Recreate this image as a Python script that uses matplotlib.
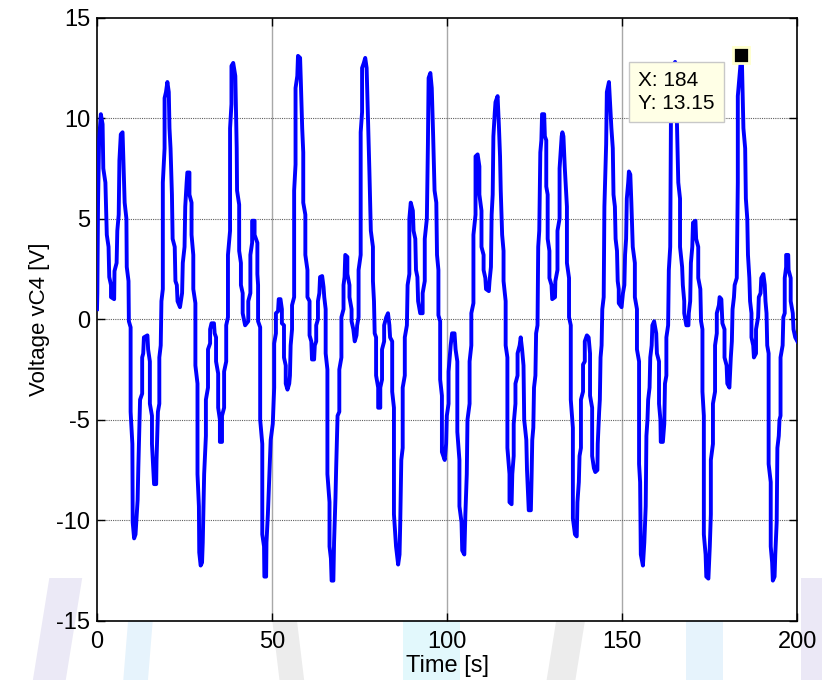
import matplotlib
matplotlib.use('Agg')
import matplotlib.pyplot as plt
from matplotlib.patches import Polygon
import numpy as np

plt.rcParams['font.family'] = ['Liberation Sans', 'DejaVu Sans']
plt.rcParams['axes.unicode_minus'] = False

# waveform vertices (time [s], voltage [V])
time_s = [
    0.0, 0.1, 0.3, 0.6, 1.1, 1.6, 1.8, 2.4, 2.8, 3.3, 3.5, 4.0, 4.0, 4.9, 5.0, 5.6, 5.8, 6.2, 6.4, 6.8,
    7.3, 7.5, 7.9, 8.4, 8.5, 9.0, 9.1, 9.6, 9.6, 10.1, 10.2, 10.6, 11.0, 11.6, 11.8, 12.3, 12.9, 12.9, 13.2, 13.4,
    14.4, 14.6, 15.1, 15.1, 15.7, 15.7, 16.3, 16.9, 17.0, 17.4, 17.8, 17.8, 18.2, 18.4, 18.8, 18.8, 19.3, 19.3, 19.7, 20.1,
    20.5, 20.7, 21.0, 21.4, 21.6, 22.2, 22.4, 22.8, 23.0, 23.7, 24.3, 24.5, 25.0, 25.2, 25.6, 25.8, 26.4, 26.4, 27.0, 27.0,
    27.5, 27.5, 28.1, 28.1, 28.7, 28.7, 29.1, 29.2, 29.6, 30.0, 30.2, 30.6, 31.1, 31.1, 31.7, 31.7, 32.3, 32.3, 32.7, 33.4,
    33.6, 34.0, 34.0, 34.6, 34.6, 35.1, 35.1, 35.7, 35.7, 36.3, 36.3, 36.9, 36.9, 37.4, 37.4, 38.0, 38.0, 38.4, 38.4, 38.9,
    39.5, 39.9, 40.0, 40.6, 40.6, 41.1, 41.1, 41.6, 41.6, 42.3, 43.2, 43.2, 43.8, 43.8, 44.3, 44.3, 45.0, 45.0, 45.8, 45.8,
    46.0, 46.0, 46.6, 46.6, 47.2, 47.2, 47.7, 47.8, 48.3, 48.4, 48.8, 49.6, 50.2, 50.6, 50.6, 51.1, 51.1, 51.7, 51.9, 52.4,
    52.8, 52.8, 53.4, 53.4, 53.9, 53.9, 54.4, 54.9, 55.1, 55.3, 55.7, 55.7, 56.3, 56.3, 56.7, 56.7, 57.2, 57.4, 58.0, 58.2,
    58.6, 58.9, 58.9, 59.5, 59.5, 60.1, 60.1, 60.7, 60.7, 61.2, 61.4, 62.0, 62.2, 62.6, 62.6, 63.1, 63.1, 63.5, 63.7, 64.3,
    64.7, 64.9, 65.3, 65.3, 65.8, 65.8, 66.4, 66.4, 66.8, 67.0, 67.5, 67.7, 68.1, 68.3, 68.7, 69.2, 69.2, 69.8, 69.8, 70.4,
    70.4, 70.7, 70.9, 71.5, 71.5, 72.1, 72.1, 72.7, 72.7, 73.2, 73.6, 74.1, 74.3, 74.7, 74.7, 75.3, 75.3, 75.7, 75.7, 76.2,
    76.6, 77.0, 77.4, 77.8, 78.2, 78.8, 78.8, 79.1, 79.3, 79.7, 79.7, 80.3, 80.3, 80.9, 80.9, 81.4, 81.4, 82.0, 82.0, 82.6,
    83.1, 83.5, 83.7, 84.3, 84.3, 84.8, 84.8, 85.4, 86.0, 86.4, 86.6, 86.9, 87.3, 87.3, 87.9, 87.9, 88.5, 88.7, 89.2, 89.2,
    89.6, 90.2, 90.4, 90.9, 91.1, 91.5, 91.7, 92.3, 93.0, 93.0, 93.6, 93.6, 94.2, 94.5, 94.7, 95.2, 95.6, 96.0, 96.4, 96.9,
    97.1, 97.5, 97.5, 98.0, 98.0, 98.5, 98.5, 99.3, 99.7, 99.9, 100.4, 100.4, 101.0, 101.4, 102.1, 102.4, 102.9, 102.9, 103.5, 103.5,
    104.1, 104.3, 104.9, 105.2, 105.6, 105.8, 106.4, 106.4, 106.9, 106.9, 107.5, 107.5, 108.1, 108.1, 108.7, 109.2, 109.2, 109.8, 109.8, 110.4,
    110.4, 110.9, 111.1, 111.9, 112.1, 112.5, 112.7, 113.0, 113.2, 113.6, 113.8, 114.4, 114.8, 115.1, 115.3, 115.7, 116.1, 116.1, 116.7, 116.7,
    117.2, 117.2, 117.8, 117.8, 118.4, 118.6, 119.0, 119.0, 119.5, 119.5, 120.1, 120.1, 120.7, 121.0, 121.4, 121.8, 122.0, 122.6, 122.8, 123.3,
    123.9, 124.1, 124.3, 124.6, 124.8, 125.2, 125.4, 125.8, 126.0, 126.3, 126.6, 126.9, 127.1, 127.7, 127.9, 128.3, 128.3, 128.7, 128.7, 129.2,
    129.2, 129.8, 130.0, 130.8, 130.9, 131.5, 131.5, 132.1, 132.1, 132.7, 132.9, 133.2, 133.6, 134.0, 134.2, 134.2, 134.8, 134.8, 135.3, 135.3,
    135.9, 135.9, 136.5, 137.0, 137.2, 137.6, 137.8, 138.2, 138.2, 138.8, 138.8, 139.3, 139.3, 139.9, 140.4, 140.8, 140.8, 141.4, 141.4, 141.9,
    142.3, 142.9, 143.0, 143.4, 143.6, 143.8, 144.1, 144.3, 144.7, 144.9, 145.4, 145.6, 146.2, 146.6, 146.9, 147.3, 147.5, 147.9, 148.1, 148.5,
    148.7, 149.0, 149.0, 149.8, 150.2, 150.6, 150.8, 151.1, 151.3, 151.7, 151.9, 152.3, 152.6, 153.0, 153.6, 153.6, 154.2, 154.2, 154.8, 154.8,
    155.1, 155.3, 155.9, 156.3, 156.7, 156.9, 157.2, 157.4, 157.8, 158.0, 158.4, 158.6, 159.1, 159.7, 159.9, 160.5, 160.5, 160.9, 161.0, 161.6,
    162.0, 162.2, 162.6, 162.6, 163.1, 163.3, 163.7, 163.9, 164.5, 165.1, 165.6, 166.0, 166.5, 166.5, 167.1, 167.3, 167.7, 167.7, 168.3, 168.9,
    169.0, 169.4, 169.6, 170.0, 170.2, 170.9, 171.1, 171.7, 171.7, 172.3, 172.5, 172.9, 172.9, 173.3, 173.3, 173.8, 174.0, 174.6, 175.0, 175.3,
    175.3, 175.9, 175.9, 176.5, 176.5, 177.0, 177.0, 177.6, 177.8, 178.3, 178.6, 179.2, 179.2, 179.8, 180.0, 180.6, 180.8, 181.0, 181.3, 181.5,
    181.9, 182.1, 182.7, 182.9, 183.0, 183.0, 183.4, 184.0, 184.2, 184.6, 185.1, 185.3, 185.7, 185.9, 186.3, 186.5, 186.9, 186.9, 187.4, 187.6,
    188.2, 188.2, 188.8, 189.0, 189.5, 189.7, 190.3, 190.7, 190.9, 191.2, 191.4, 191.8, 191.8, 192.4, 192.4, 192.8, 193.0, 193.5, 193.7, 194.1,
    194.3, 194.7, 194.9, 195.2, 195.2, 195.8, 196.0, 196.4, 196.4, 196.8, 196.8, 197.4, 197.5, 198.1, 198.1, 198.7, 198.9, 199.4, 200.0,
]
voltage_v = [
    0.5, 1.3, 5.8, 8.9, 10.2, 9.7, 7.5, 6.8, 4.2, 3.6, 2.1, 1.7, 1.1, 1.0, 2.4, 2.8, 4.4, 5.2, 7.9, 9.2,
    9.3, 8.1, 5.8, 5.0, 2.6, 1.9, -0.1, -0.4, -4.6, -6.2, -10.1, -10.9, -10.7, -9.0, -7.4, -4.0, -3.7, -1.9, -1.7, -0.9,
    -0.8, -1.5, -2.1, -4.2, -4.8, -6.2, -8.2, -8.2, -7.0, -4.6, -4.2, -1.9, -1.3, 0.9, 1.5, 6.8, 8.5, 11.0, 11.3, 11.8,
    11.3, 9.5, 8.5, 6.2, 4.0, 3.6, 1.9, 1.7, 0.9, 0.6, 1.3, 2.8, 3.6, 5.6, 6.8, 7.3, 7.3, 6.2, 5.8, 4.2,
    3.2, 1.5, 0.8, -2.3, -3.2, -7.7, -9.3, -11.6, -12.25, -12.1, -11.1, -7.7, -5.8, -4.0, -3.4, -1.5, -1.2, -0.5, -0.2, -0.2,
    -0.7, -0.9, -2.1, -2.7, -4.4, -5.0, -6.1, -6.1, -4.8, -4.4, -2.6, -2.1, -0.3, 0.1, 3.2, 4.4, 9.5, 10.7, 12.6, 12.75,
    12.1, 8.5, 6.4, 5.7, 3.4, 2.8, 1.7, 1.3, 0.3, -0.3, -0.1, 0.9, 1.3, 3.2, 3.8, 4.9, 4.9, 4.2, 3.8, 2.25,
    1.7, -0.1, -0.4, -5.0, -6.2, -10.7, -11.3, -12.8, -12.8, -11.1, -9.7, -6.0, -5.2, -3.4, -1.2, -0.7, 0.3, 0.4, 1.0, 1.0,
    0.5, -0.2, -0.3, -1.9, -2.3, -3.2, -3.5, -3.2, -2.8, -1.3, -0.5, 0.7, 1.1, 6.4, 7.7, 11.5, 12.1, 13.1, 13.0, 11.9,
    9.5, 8.3, 5.8, 5.2, 3.2, 2.45, 1.1, 0.9, -0.8, -1.1, -2.0, -2.0, -1.3, -1.1, -0.3, 0.0, 0.9, 1.3, 2.1, 2.15,
    1.6, 1.1, 0.5, -1.7, -2.5, -7.7, -9.1, -11.3, -11.9, -13.0, -13.0, -11.1, -8.9, -7.4, -4.8, -4.6, -2.5, -1.9, 0.1, 0.5,
    1.7, 2.1, 3.2, 3.1, 2.25, 1.7, 1.1, 0.5, -0.1, -0.5, -1.1, -0.8, -0.3, 0.1, 2.45, 3.2, 9.3, 10.3, 12.5, 12.75,
    13.0, 12.5, 9.9, 7.3, 4.4, 3.6, 1.9, 0.9, -0.7, -0.9, -2.8, -3.4, -4.4, -4.4, -3.4, -3.0, -1.5, -1.1, -0.3, 0.1,
    0.3, -0.3, -0.9, -1.1, -3.6, -4.4, -9.7, -11.3, -12.2, -11.7, -10.1, -7.0, -6.4, -3.4, -2.8, -0.9, -0.3, 1.7, 2.25, 5.0,
    5.8, 5.4, 4.4, 4.0, 2.45, 2.1, 0.9, 0.3, 0.3, 1.3, 1.9, 4.0, 5.0, 8.7, 12.0, 12.25, 11.5, 9.1, 6.4, 5.8,
    3.2, 2.45, 0.2, -0.1, -3.0, -3.8, -6.6, -7.0, -6.2, -4.8, -4.2, -2.6, -1.3, -0.7, -0.7, -1.5, -2.1, -5.6, -7.0, -9.3,
    -10.1, -11.5, -11.7, -9.7, -7.7, -5.0, -4.2, -2.1, -1.3, 0.3, 0.8, 4.2, 5.2, 8.1, 8.2, 7.6, 6.2, 5.4, 3.6, 3.2,
    2.45, 2.05, 1.5, 1.4, 1.9, 2.6, 5.2, 6.2, 9.1, 10.3, 10.8, 11.1, 9.5, 8.1, 6.4, 4.2, 3.4, 1.9, 0.9, -1.3,
    -1.9, -6.4, -7.7, -9.1, -9.2, -7.7, -6.8, -5.2, -4.2, -3.2, -2.8, -1.7, -1.3, -0.9, -1.5, -2.3, -5.0, -6.0, -7.5, -9.5,
    -9.5, -7.9, -6.0, -5.4, -3.4, -2.8, -0.7, -0.3, 3.6, 4.4, 8.3, 8.9, 10.2, 10.2, 9.1, 8.9, 6.6, 6.2, 4.0, 3.4,
    2.05, 1.7, 1.0, 1.1, 1.9, 2.45, 4.4, 5.0, 7.5, 9.1, 9.3, 9.1, 7.5, 6.2, 5.6, 2.8, 2.05, 0.1, -0.3, -4.0,
    -5.4, -9.9, -10.7, -10.8, -9.1, -8.1, -6.8, -6.4, -4.0, -3.6, -2.25, -2.1, -1.1, -0.8, -0.9, -1.7, -3.8, -4.4, -6.8, -7.4,
    -7.6, -7.5, -6.2, -4.6, -4.0, -1.9, -1.3, 0.5, 1.1, 5.6, 8.7, 11.3, 11.8, 10.5, 9.5, 8.5, 6.2, 5.6, 4.0, 3.4,
    1.9, 1.5, 0.8, 0.6, 1.3, 1.7, 3.2, 4.0, 6.0, 6.8, 7.35, 7.2, 5.8, 3.6, 2.8, 1.1, 0.5, -1.5, -2.1, -7.2,
    -8.1, -11.7, -12.25, -11.1, -9.3, -5.8, -5.0, -4.0, -3.4, -1.9, -1.3, -0.3, -0.1, -0.7, -1.7, -2.1, -4.2, -5.0, -6.1, -6.1,
    -5.2, -3.2, -2.8, -0.9, -0.3, 2.45, 3.6, 9.9, 12.6, 12.8, 9.9, 6.8, 6.0, 3.6, 2.6, 1.7, 0.9, 0.3, -0.3, -0.3,
    0.3, 0.9, 2.8, 3.6, 4.8, 4.9, 4.0, 3.6, 2.05, 1.5, -0.1, -0.5, -3.6, -4.8, -10.7, -11.7, -12.8, -12.9, -11.3, -9.7,
    -7.0, -6.2, -4.2, -3.6, -1.3, -0.7, 0.3, 0.7, 1.1, 1.0, -0.2, -0.5, -1.9, -2.3, -3.2, -3.4, -2.6, -1.9, -1.1, 0.5,
    1.1, 1.7, 2.05, 5.2, 6.8, 11.1, 11.9, 13.15, 12.6, 9.5, 8.5, 6.0, 5.0, 3.2, 2.05, 0.9, 0.3, -0.9, -1.3, -1.9,
    -1.7, -0.5, 0.1, 1.1, 1.3, 2.05, 2.25, 1.7, 0.9, 0.3, -1.3, -1.7, -7.2, -8.1, -11.3, -12.1, -13.0, -12.8, -11.7, -10.1,
    -6.4, -5.8, -5.0, -4.8, -1.9, -1.3, 0.1, 0.3, 2.05, 2.6, 3.2, 3.2, 2.45, 2.05, 0.9, 0.3, -0.5, -0.9, -1.1,
]

tip_x = 184
tip_y = 13.15

x_ticks = [0, 50, 100, 150, 200]
y_ticks = [-15, -10, -5, 0, 5, 10, 15]

fig = plt.figure(figsize=(8.22, 6.8), dpi=100)
ax_box = [0.118, 0.087, 0.852, 0.887]

# faint watermark bands, only in the margins outside the axes
bands = [
    ([0.04, 0.08, 0.10, 0.06], '#ebe9f6'),
    ([0.15, 0.18, 0.19, 0.16], '#e6f3fc'),
    ([0.34, 0.37, 0.355, 0.325], '#ececec'),
    ([0.49, 0.56, 0.56, 0.49], '#e2f8fc'),
    ([0.665, 0.70, 0.72, 0.685], '#ececec'),
    ([0.835, 0.88, 0.88, 0.835], '#e6f3fc'),
    ([0.975, 1.0, 1.0, 0.975], '#ebe8f6'),
]
top = 0.15
for xs, col in bands:
    # cut each slanted band at the bottom of the axes unless it lies in a side margin
    h = top if (xs[1] < ax_box[0] or xs[0] > ax_box[0] + ax_box[2]) else ax_box[1]
    f = h / top
    x2 = xs[1] + (xs[2] - xs[1]) * f
    x3 = xs[0] + (xs[3] - xs[0]) * f
    poly = Polygon([(xs[0], 0.0), (xs[1], 0.0), (x2, h), (x3, h)],
                   closed=True, transform=fig.transFigure, facecolor=col,
                   edgecolor='none', zorder=0)
    fig.add_artist(poly)

ax = fig.add_axes(ax_box)
ax.set_zorder(2)

ax.plot(time_s, voltage_v, color='#0000ff', linewidth=2.8, zorder=3)

ax.set_xlim(0, 200)
ax.set_ylim(-15, 15)
ax.set_xticks(x_ticks)
ax.set_yticks(y_ticks)
ax.tick_params(direction='in', length=6, width=1, top=True, right=True,
               labelsize=17)
ax.tick_params(axis='x', pad=7)
ax.tick_params(axis='y', pad=5)

for v in x_ticks[1:-1]:
    ax.axvline(v, color='#a8a8a8', linewidth=1.0, zorder=1)
for v in y_ticks[1:-1]:
    ax.axhline(v, color='#606060', linewidth=0.8, linestyle=(0, (1, 1)), zorder=1)

for s in ax.spines.values():
    s.set_linewidth(1.2)

ax.set_xlabel('Time [s]', fontsize=17, labelpad=2)
ax.set_ylabel('Voltage vC4 [V]', fontsize=16, labelpad=4)

# data tip
ax.plot([tip_x], [tip_y], marker='s', markersize=11, markerfacecolor='black',
        markeredgecolor='#ffffcc', markeredgewidth=2, zorder=5, clip_on=False)
ax.text(154.5, 11.3, f'X: {tip_x}\nY: {tip_y:.2f}', fontsize=15, linespacing=1.25,
        va='center', ha='left', zorder=6,
        bbox=dict(boxstyle='square,pad=0.45', facecolor='#ffffe6', edgecolor='#c8c8c8', linewidth=1))

fig.savefig('out.png', dpi=100)
